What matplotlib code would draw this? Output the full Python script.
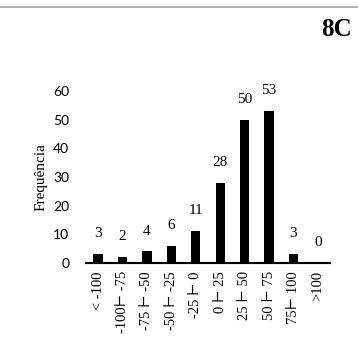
import matplotlib
matplotlib.use("Agg")
import matplotlib.pyplot as plt
from matplotlib.lines import Line2D

categories = ["< -100", "-100⊢ -75", "-75 ⊢ -50", "-50 ⊢ -25", "-25 ⊢ 0",
              "0 ⊢ 25", "25 ⊢ 50", "50 ⊢ 75", "75⊢ 100", ">100"]
values = [3, 2, 4, 6, 11, 28, 50, 53, 3, 0]
yticks = [0, 10, 20, 30, 40, 50, 60]

serif = ["Liberation Serif", "DejaVu Serif"]
sans = ["Lato", "DejaVu Sans"]

fig = plt.figure(figsize=(3.58, 3.51), dpi=100)
ax = fig.add_axes([0.24, 0.251, 0.682, 0.490])

x = list(range(len(categories)))
ax.bar(x, values, width=0.38, color="black")
ax.set_xlim(-0.5, len(categories) - 0.5)
ax.set_ylim(0, 60)
ax.set_yticks(yticks)
ax.set_yticklabels([str(t) for t in yticks], family=sans, fontsize=10)
ax.set_xticks(x)
ax.set_xticklabels(categories, rotation=90, family=serif, fontsize=10.5)
ax.tick_params(axis="both", length=0)
ax.tick_params(axis="y", pad=12)
ax.tick_params(axis="x", pad=6)
for s in ["top", "right", "left"]:
    ax.spines[s].set_visible(False)
ax.spines["bottom"].set_linewidth(1.5)

for xi, v in zip(x, values):
    ax.annotate(str(v), (xi, v), xytext=(0, 10), textcoords="offset points",
                ha="center", va="bottom", family=serif, fontsize=11)

ax.set_ylabel("Frequência", family=serif, fontsize=11, labelpad=4)

fig.text(0.983, 0.915, "8C", ha="right", va="center", family=serif,
         fontsize=18, fontweight="bold")
fig.add_artist(Line2D([0, 1], [0.98, 0.98], transform=fig.transFigure,
                      color="#a0a0a0", linewidth=1.2))

fig.savefig("out.png", dpi=100)
